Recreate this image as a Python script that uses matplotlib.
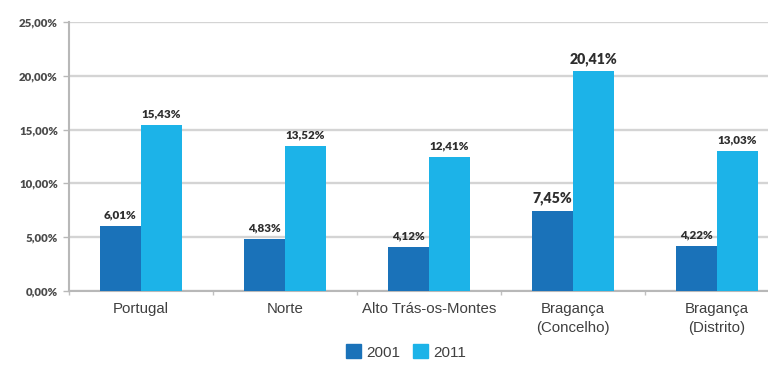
import matplotlib
matplotlib.use("Agg")
import matplotlib.pyplot as plt
import numpy as np
from matplotlib.patches import Patch

categories = ["Portugal", "Norte", "Alto Trás-os-Montes",
              "Bragança\n(Concelho)", "Bragança\n(Distrito)"]
series_names = ["2001", "2011"]
values_2001 = [6.01, 4.83, 4.12, 7.45, 4.22]
values_2011 = [15.43, 13.52, 12.41, 20.41, 13.03]
y_ticks = [0, 5, 10, 15, 20, 25]

dark = "#1a72b9"
light = "#1cb3e8"
grid_c = "#d4d4d4"
text_c = "#404040"

fig = plt.figure(figsize=(7.68, 3.71), dpi=100)
ax = fig.add_axes([69 / 768, 80 / 371, 720 / 768, 269 / 371])

x = np.arange(len(categories))
w = 0.285
ax.bar(x - w / 2, values_2001, w, color=dark, zorder=3)
ax.bar(x + w / 2, values_2011, w, color=light, zorder=3)

def fmt(v):
    return f"{v:.2f}".replace(".", ",") + "%"

for i, (a, b) in enumerate(zip(values_2001, values_2011)):
    big = i == 3
    fs = 10.2 if big else 8.4
    for xv, v in ((x[i] - w / 2, a), (x[i] + w / 2, b)):
        ax.annotate(fmt(v), (xv, v), xytext=(0, 4), textcoords="offset points",
                    ha="center", va="bottom", fontsize=fs, fontweight="heavy",
                    color="#2e2e2e", family="Lato")

ax.set_xlim(-0.5, len(categories) - 0.5)
ax.set_ylim(0, 25)
ax.set_yticks(y_ticks)
ax.set_yticklabels([f"{t:.2f}".replace(".", ",") + "%" for t in y_ticks],
                   fontsize=8.2, fontweight="heavy", color="#4a4a4a", family="Lato")
ax.yaxis.grid(True, color=grid_c, linewidth=1.7, zorder=0)
ax.set_axisbelow(True)

ax.set_xticks(x)
ax.set_xticklabels(categories, fontsize=10.8, color=text_c, family="Liberation Sans",
                   linespacing=1.4)
ax.tick_params(axis="x", length=0, pad=8)
ax.set_xticks(np.arange(len(categories) + 1) - 0.5, minor=True)
ax.tick_params(axis="x", which="minor", length=3, color="#c0c0c0", width=1)
ax.tick_params(axis="y", length=4, color="#b8b8b8", width=1, pad=4)

for s in ["top", "right"]:
    ax.spines[s].set_visible(False)
ax.spines["left"].set_color("#b8b8b8")
ax.spines["left"].set_linewidth(1.5)
ax.spines["bottom"].set_color("#b8b8b8")
ax.spines["bottom"].set_linewidth(1.5)

handles = [Patch(color=dark), Patch(color=light)]
fig.legend(handles, series_names, loc="center", bbox_to_anchor=(406 / 768, 19 / 371),
           ncol=2, frameon=False, handlelength=1.0, handleheight=1.0,
           handletextpad=0.35, columnspacing=0.8,
           prop={"family": "Liberation Sans", "size": 11})
for t in fig.legends[0].get_texts():
    t.set_color(text_c)

fig.savefig("out.png", dpi=100)
